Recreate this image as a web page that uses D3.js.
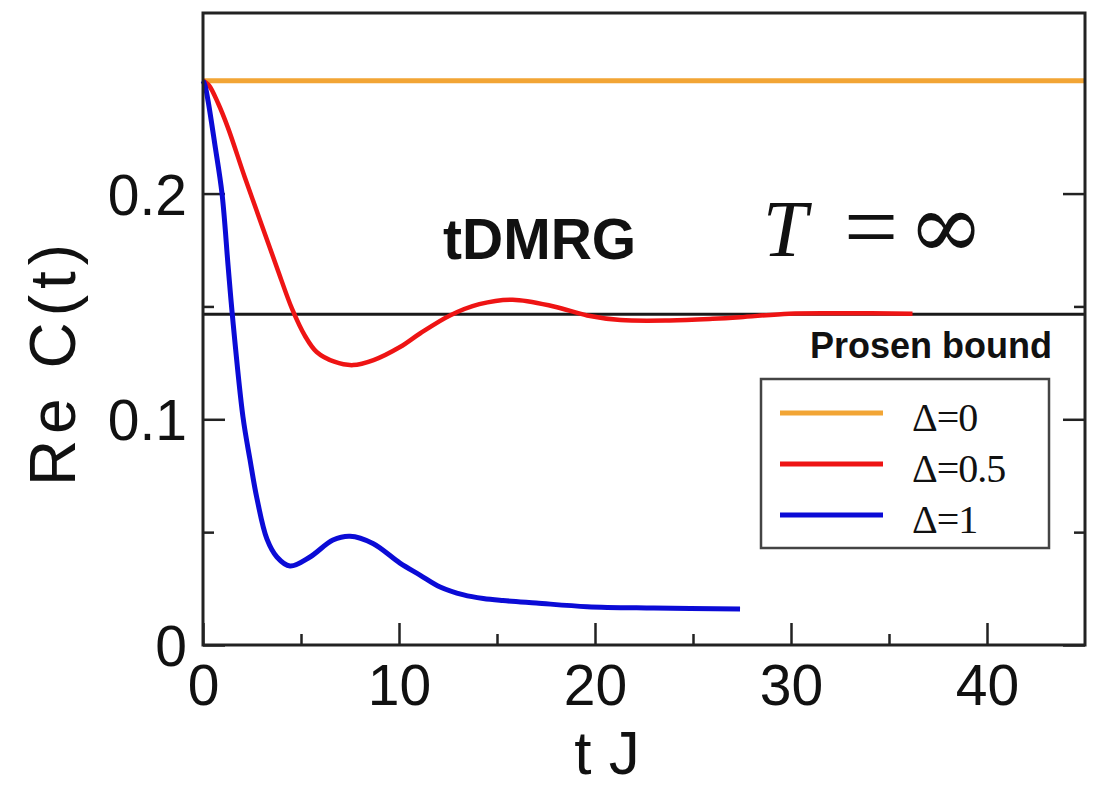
<!DOCTYPE html>
<html>
<head>
<meta charset="utf-8">
<script src="https://cdn.jsdelivr.net/npm/d3@7"></script>
<style>
  html, body { margin: 0; padding: 0; background: #fff; }
  svg { display: block; }
  text { font-family: "Liberation Sans", Arial, Helvetica, sans-serif; fill: #111; }
</style>
</head>
<body>
<svg id="chart" width="1099" height="789"></svg>
<script>
// Re C(t) at infinite temperature, tDMRG data for three anisotropies
const seriesNames = ["Δ=0", "Δ=0.5", "Δ=1"];
const seriesColors = ["#f2a535", "#ee1414", "#0b0bd6"];

const tDelta0 = [0, 45];
const cDelta0 = [0.25, 0.25];

const tDelta05 = [0, 0.3, 0.77, 1.28, 2.14, 3.0, 3.8, 4.54, 5.2, 5.8, 6.7, 7.65, 8.7, 10.05, 11.07, 12.6, 14.1, 15.8, 17.9, 19.6, 21.3, 23.8, 26.0, 27.4, 29.9, 32.5, 36.2];
const cDelta05 = [0.25, 0.248, 0.240, 0.229, 0.207, 0.186, 0.1665, 0.149, 0.137, 0.1298, 0.1255, 0.124, 0.1262, 0.132, 0.138, 0.146, 0.151, 0.153, 0.150, 0.146, 0.1440, 0.1438, 0.1445, 0.1452, 0.1468, 0.1470, 0.1468];

const tDelta1 = [0, 0.1, 0.26, 0.6, 0.97, 1.28, 1.5, 2.04, 2.4, 2.75, 3.26, 3.77, 4.44, 5.46, 6.63, 7.5, 8.67, 10.05, 11.07, 12.1, 13.3, 14.3, 15.3, 17.0, 19.6, 23.0, 27.4];
const cDelta1 = [0.25, 0.248, 0.241, 0.222, 0.200, 0.168, 0.146, 0.101, 0.082, 0.065, 0.047, 0.039, 0.035, 0.039, 0.0465, 0.0482, 0.045, 0.0363, 0.031, 0.0257, 0.0222, 0.0206, 0.0197, 0.0186, 0.0170, 0.0164, 0.0160];

const prosenBound = 0.1465;

const xMajorTicks = [0, 10, 20, 30, 40];
const xMinorTicks = [5, 15, 25, 35];
const yMajorTicks = [0, 0.1, 0.2];
const yMinorTicks = [0.05, 0.15, 0.25];

const svg = d3.select("#chart");
const plot = { left: 203, right: 1085, top: 13, bottom: 645 };

const x = d3.scaleLinear().domain([0, 45]).range([plot.left, plot.right]);
const y = d3.scaleLinear().domain([0, 0.28]).range([plot.bottom, plot.top]);

const axisColor = "#222";
const tickFont = 57;

// axes: major ticks with labels, minor ticks without, all pointing inward
function styleAxis(g) {
  g.select(".domain").remove();
  g.selectAll(".tick line").attr("stroke", axisColor).attr("stroke-width", 2.5);
}

const gx = svg.append("g").attr("transform", `translate(0,${plot.bottom})`)
  .call(d3.axisBottom(x).tickValues(xMajorTicks).tickSize(-22).tickPadding(0).tickFormat(d3.format("d")));
styleAxis(gx);
gx.selectAll(".tick text").attr("y", 60).attr("dy", 0).attr("font-size", tickFont).attr("fill", "#111");

const gxm = svg.append("g").attr("transform", `translate(0,${plot.bottom})`)
  .call(d3.axisBottom(x).tickValues(xMinorTicks).tickSize(-11).tickFormat(""));
styleAxis(gxm);

const gy = svg.append("g").attr("transform", `translate(${plot.left},0)`)
  .call(d3.axisLeft(y).tickValues(yMajorTicks).tickSize(-22).tickPadding(16)
    .tickFormat(d => d === 0 ? "0" : d.toFixed(1)));
styleAxis(gy);
gy.selectAll(".tick text").attr("dy", "0.36em").attr("font-size", tickFont).attr("fill", "#111");

const gym = svg.append("g").attr("transform", `translate(${plot.left},0)`)
  .call(d3.axisLeft(y).tickValues(yMinorTicks).tickSize(-11).tickFormat(""));
styleAxis(gym);

const gyr = svg.append("g").attr("transform", `translate(${plot.right},0)`)
  .call(d3.axisRight(y).tickValues(yMajorTicks).tickSize(-22).tickFormat(""));
styleAxis(gyr);
const gyrm = svg.append("g").attr("transform", `translate(${plot.right},0)`)
  .call(d3.axisRight(y).tickValues(yMinorTicks).tickSize(-11).tickFormat(""));
styleAxis(gyrm);

// Prosen bound reference line
svg.append("line")
  .attr("x1", x(0)).attr("x2", x(45))
  .attr("y1", y(prosenBound)).attr("y2", y(prosenBound))
  .attr("stroke", "#1a1a1a").attr("stroke-width", 3);

// curves
const series = [
  { t: tDelta0, c: cDelta0, w: 5 },
  { t: tDelta05, c: cDelta05, w: 4.5 },
  { t: tDelta1, c: cDelta1, w: 5 }
];
const line = d3.line()
  .x(d => x(d[0])).y(d => y(d[1]))
  .curve(d3.curveCatmullRom.alpha(0.5));

series.forEach((s, i) => {
  svg.append("path")
    .datum(s.t.map((t, k) => [t, s.c[k]]))
    .attr("fill", "none")
    .attr("stroke", seriesColors[i])
    .attr("stroke-width", s.w)
    .attr("stroke-linejoin", "round")
    .attr("stroke-linecap", "butt")
    .attr("d", line);
});

// frame
svg.append("rect")
  .attr("x", plot.left).attr("y", plot.top)
  .attr("width", plot.right - plot.left).attr("height", plot.bottom - plot.top)
  .attr("fill", "none").attr("stroke", axisColor).attr("stroke-width", 3);

// axis titles
svg.append("text")
  .attr("x", 607).attr("y", 774)
  .attr("text-anchor", "middle")
  .attr("font-size", 62)
  .text("t J");

svg.append("text")
  .attr("transform", "translate(75,362) rotate(-90)")
  .attr("text-anchor", "middle")
  .attr("font-size", 64)
  .attr("letter-spacing", 6)
  .text("Re C(t)");

// annotations
svg.append("text")
  .attr("x", 443).attr("y", 259)
  .attr("font-size", 57).attr("font-weight", "bold")
  .text("tDMRG");

const serif = "'Liberation Serif', 'DejaVu Serif', serif";
svg.append("text").attr("x", 785).attr("y", 256).attr("text-anchor", "middle")
  .attr("font-size", 80).attr("font-style", "italic")
  .style("font-family", serif).text("T");
svg.append("text").attr("x", 871).attr("y", 259).attr("text-anchor", "middle")
  .attr("font-size", 96)
  .style("font-family", serif).text("=");
svg.append("text").attr("x", 946).attr("y", 258).attr("text-anchor", "middle")
  .attr("font-size", 92)
  .style("font-family", "'DejaVu Serif', 'Liberation Serif', serif").text("∞");

svg.append("text")
  .attr("x", 1052).attr("y", 358)
  .attr("text-anchor", "end")
  .attr("font-size", 36).attr("font-weight", "bold")
  .text("Prosen bound");

// legend
const legend = svg.append("g");
legend.append("rect")
  .attr("x", 761).attr("y", 379).attr("width", 288).attr("height", 169)
  .attr("fill", "#fff").attr("stroke", "#444").attr("stroke-width", 2.5);

seriesNames.forEach((name, i) => {
  const ly = 413 + i * 51;
  legend.append("line")
    .attr("x1", 780).attr("x2", 883).attr("y1", ly).attr("y2", ly)
    .attr("stroke", seriesColors[i]).attr("stroke-width", 5);
  legend.append("text")
    .attr("x", 912).attr("y", ly + 18)
    .attr("font-size", 40)
    .attr("letter-spacing", -1)
    .style("font-family", "'Liberation Serif', 'Times New Roman', serif")
    .text(name);
});
</script>
</body>
</html>
